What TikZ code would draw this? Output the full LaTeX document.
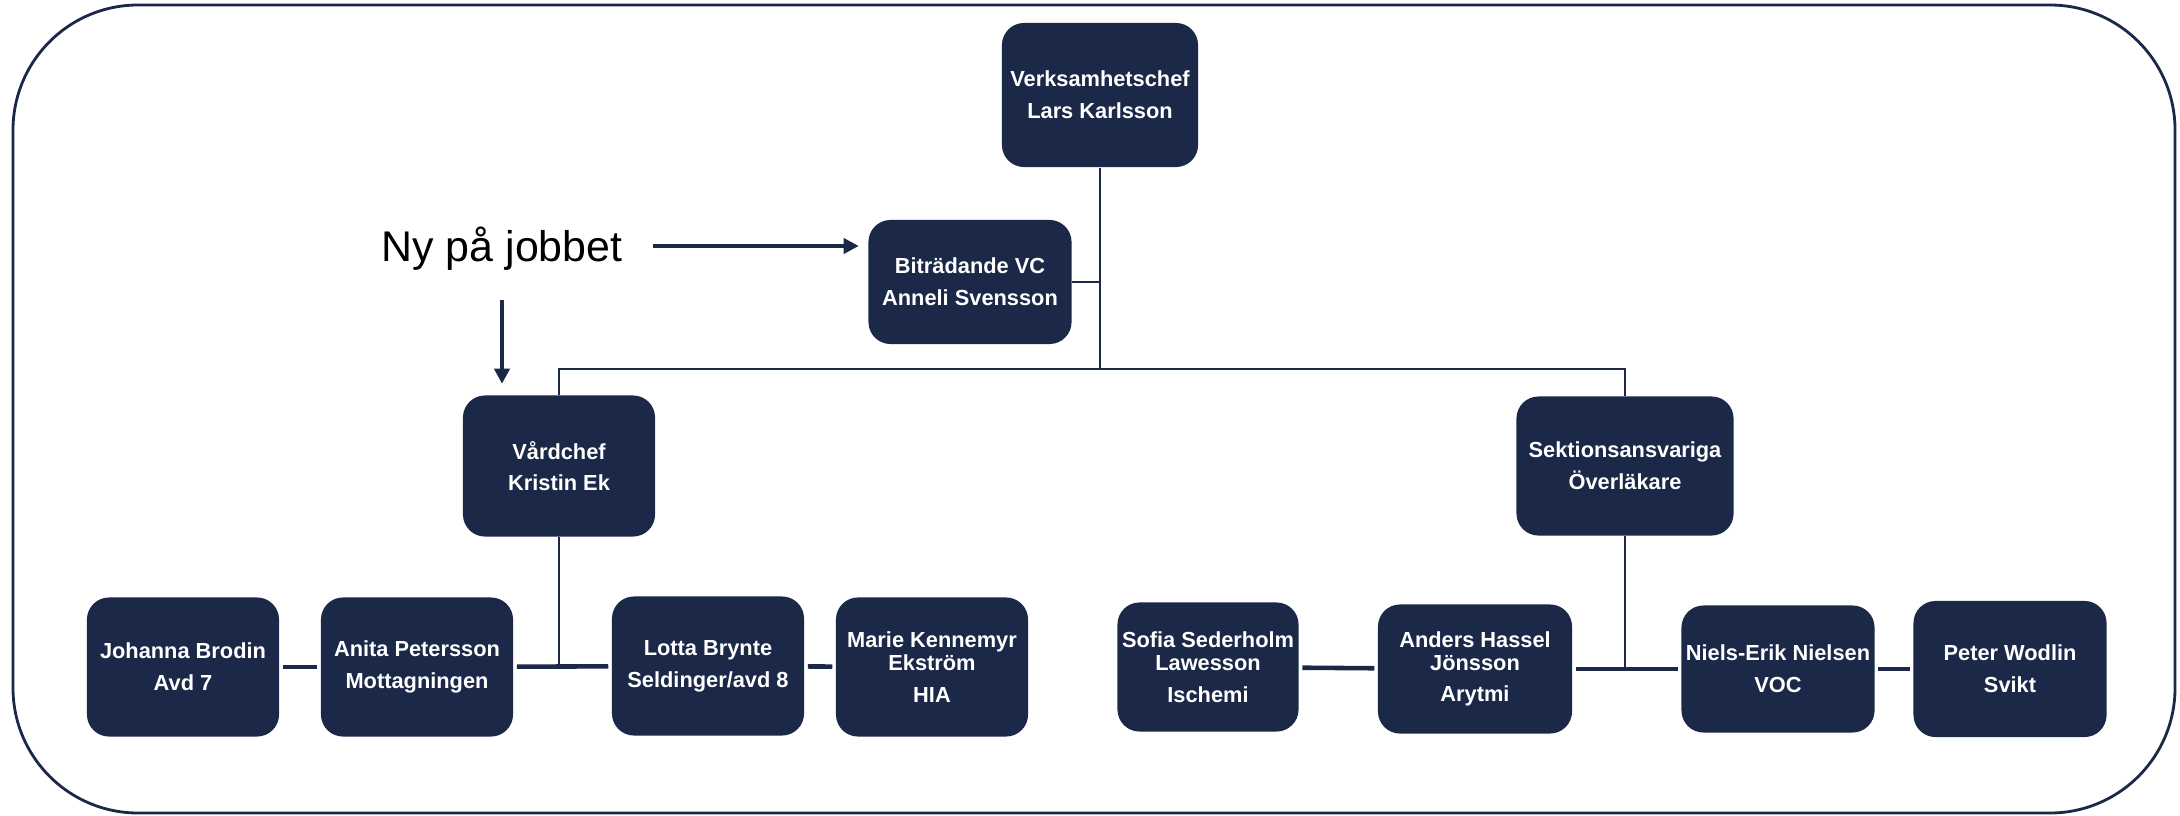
\documentclass[tikz,border=0pt]{standalone}
\usepackage{fontspec}
\setmainfont{Liberation Sans}
\usetikzlibrary{arrows.meta}
\definecolor{navy}{RGB}{27,40,72}

\begin{document}
\begin{tikzpicture}[x=0.01cm,y=-0.01cm,
    box/.style={fill=navy,rounded corners=0.22cm,text=white,
      font=\fontsize{6.2}{9}\selectfont\bfseries,align=center,
      inner sep=0pt,minimum width=1.92cm,minimum height=1.39cm},
    link/.style={navy,line width=0.8pt},
    sibling/.style={navy,line width=1.3pt,shorten <=0.03cm,shorten >=0.03cm},
    pointer/.style={navy,line width=1.1pt,-{Triangle[length=0.15cm,width=0.15cm]}}]
  \useasboundingbox (0,0) rectangle (2180,815);
  \draw[navy,line width=0.8pt,rounded corners=1.25cm] (13,5) rectangle (2175,813);

  % top of the tree
  \node[box,minimum width=1.96cm,minimum height=1.44cm] (vc) at (1100,95) {Verksamhetschef\\Lars Karlsson};
  \node[box,minimum width=2.03cm,minimum height=1.24cm] (bvc) at (970,282) {Biträdande VC\\Anneli Svensson};
  \node[font=\fontsize{12.2}{14}\selectfont] (ny) at (502,249) {Ny på jobbet};
  \node[box,minimum height=1.41cm] (vard) at (559,466) {Vårdchef\\Kristin Ek};
  \node[box,minimum width=2.17cm] (sekt) at (1625,466) {Sektionsansvariga\\Överläkare};

  % vardchef row
  \node[box] (jb) at (183,667) {Johanna Brodin\\Avd 7};
  \node[box] (ap) at (417,667) {Anita Petersson\\Mottagningen};
  \node[box] (lb) at (708,666) {Lotta Brynte\\Seldinger/avd 8};
  \node[box] (mk) at (932,667) {Marie Kennemyr\\[-2.5pt]Ekström\\HIA};

  % overlakare row
  \node[box,minimum width=1.81cm,minimum height=1.29cm] (ss) at (1208,667) {Sofia Sederholm\\[-2.5pt]Lawesson\\Ischemi};
  \node[box,minimum width=1.94cm,minimum height=1.29cm] (ah) at (1475,669) {Anders Hassel\\[-2.5pt]Jönsson\\Arytmi};
  \node[box,minimum width=1.93cm,minimum height=1.27cm] (ne) at (1778,669) {Niels-Erik Nielsen\\VOC};
  \node[box,minimum width=1.93cm,minimum height=1.36cm] (pw) at (2010,669) {Peter Wodlin\\Svikt};

  \coordinate (bar) at (1100,369);
  \coordinate (vhub) at (vard |- ap);
  \coordinate (shub) at (sekt |- ah);

  \draw[link] (vc) -- (bar);
  \draw[link] (bvc.east) -- (bvc.east -| vc.south);
  \draw[link] (vard.north) |- (bar) -| (sekt.north);
  \draw[link] (vard) -- (vhub);
  \draw[link] (sekt) -- (shub);

  \draw[sibling] (jb) -- (ap);
  \draw[sibling] (ap) -- (lb);
  \draw[sibling] (lb) -- (mk);
  \draw[sibling] (ss) -- (ah);
  \draw[sibling] (ah) -- (ne);
  \draw[sibling] (ne) -- (pw);

  \coordinate (nyarrow) at ([yshift=0.03cm]ny.east);
  \draw[pointer,shorten <=0.18cm,shorten >=0.09cm] (nyarrow) -- (nyarrow -| bvc.west);
  \draw[pointer,shorten <=0.17cm,shorten >=0.11cm] (ny) -- (ny |- vard.north);
\end{tikzpicture}
\end{document}
